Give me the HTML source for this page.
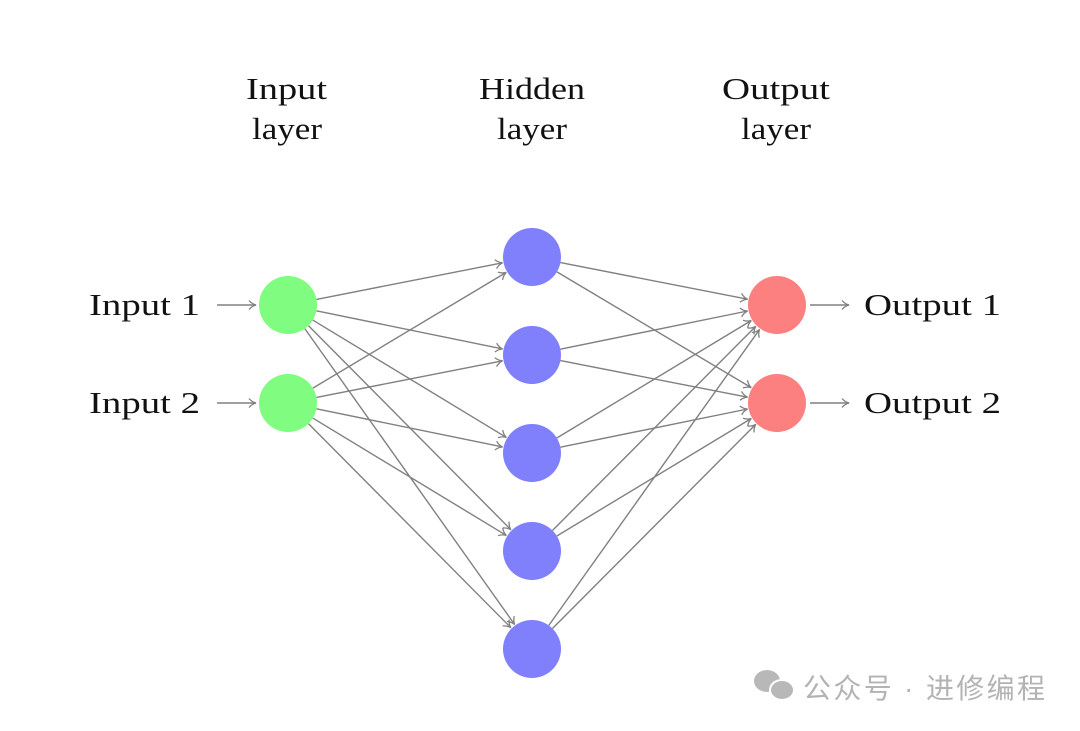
<!DOCTYPE html>
<html><head><meta charset="utf-8"><style>
html,body{margin:0;padding:0;background:#fff;}
body{width:1080px;height:731px;overflow:hidden;position:relative;}
svg{position:absolute;left:0;top:0;}
.t{font-family:"Liberation Serif",serif;font-size:31px;fill:#111;}
.w{font-family:"Liberation Sans","Noto Sans CJK SC",sans-serif;font-size:28px;fill:#b3b3b3;}
</style></head><body>
<svg id="s" width="1080" height="731" viewBox="0 0 1080 731">
<defs><marker id="a" markerWidth="12" markerHeight="12" refX="10" refY="6" orient="auto" markerUnits="userSpaceOnUse">
<path d="M3,1.5 Q6,5 10,6 Q6,7 3,10.5" fill="none" stroke="#808080" stroke-width="1.3"/></marker></defs>
<g id="L" stroke="#808080" stroke-width="1.4" fill="none"></g>
<g id="N"></g>
<text class="t" x="246" y="99" textLength="81" lengthAdjust="spacingAndGlyphs">Input</text>
<text class="t" x="252" y="139" textLength="70" lengthAdjust="spacingAndGlyphs">layer</text>
<text class="t" x="479" y="99" textLength="106" lengthAdjust="spacingAndGlyphs">Hidden</text>
<text class="t" x="497" y="139" textLength="70" lengthAdjust="spacingAndGlyphs">layer</text>
<text class="t" x="722" y="99" textLength="108" lengthAdjust="spacingAndGlyphs">Output</text>
<text class="t" x="741" y="139" textLength="70" lengthAdjust="spacingAndGlyphs">layer</text>
<text class="t" x="89" y="315" textLength="111" lengthAdjust="spacingAndGlyphs">Input  1</text>
<text class="t" x="89" y="413" textLength="111" lengthAdjust="spacingAndGlyphs">Input  2</text>
<text class="t" x="864" y="315" textLength="137" lengthAdjust="spacingAndGlyphs">Output  1</text>
<text class="t" x="864" y="413" textLength="137" lengthAdjust="spacingAndGlyphs">Output  2</text>
<g fill="#b8b8b8">
<ellipse cx="767" cy="681" rx="13" ry="11"/>
<ellipse cx="782" cy="690" rx="12" ry="10" stroke="#fff" stroke-width="2"/>
</g>
<text class="w" x="803" y="698" textLength="242" lengthAdjust="spacing">公众号 · 进修编程</text>
</svg>
<script>
var L=document.getElementById('L'),N=document.getElementById('N'),ns='http://www.w3.org/2000/svg',r=29;
var I=[[288,305],[288,403]],H=[[532,257],[532,355],[532,453],[532,551],[532,649]],O=[[777,305],[777,403]];
function ln(x1,y1,x2,y2){var e=document.createElementNS(ns,'line');e.setAttribute('x1',x1);e.setAttribute('y1',y1);e.setAttribute('x2',x2);e.setAttribute('y2',y2);e.setAttribute('marker-end','url(#a)');L.appendChild(e);}
function conn(A,B){A.forEach(function(a){B.forEach(function(b){var dx=b[0]-a[0],dy=b[1]-a[1],d=Math.hypot(dx,dy),ux=dx/d,uy=dy/d;ln(a[0]+ux*r,a[1]+uy*r,b[0]-ux*(r+1),b[1]-uy*(r+1));});});}
conn(I,H);conn(H,O);
ln(217,305,256,305);ln(217,403,256,403);ln(810,305,849,305);ln(810,403,849,403);
function c(p,f){var e=document.createElementNS(ns,'circle');e.setAttribute('cx',p[0]);e.setAttribute('cy',p[1]);e.setAttribute('r',r);e.setAttribute('fill',f);N.appendChild(e);}
I.forEach(function(p){c(p,'#80fc80')});H.forEach(function(p){c(p,'#8080fc')});O.forEach(function(p){c(p,'#fc8080')});
</script>
</body></html>
